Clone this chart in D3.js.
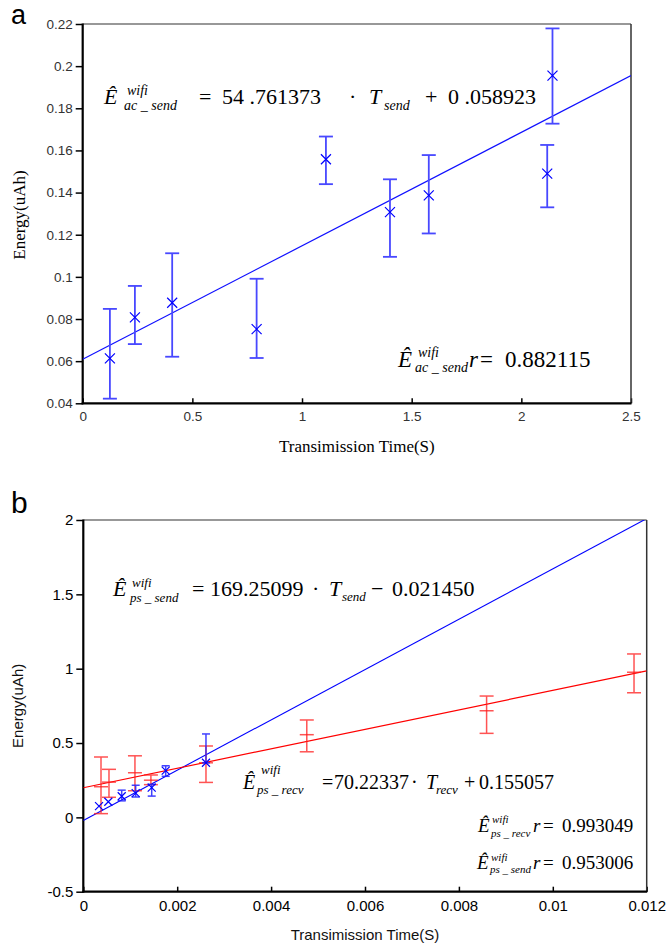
<!DOCTYPE html>
<html><head><meta charset="utf-8">
<script src="https://cdn.jsdelivr.net/npm/d3@7"></script>
<style>body{margin:0;background:#fff}svg{display:block}</style>
</head><body><script>
// ---------- Panel a data ----------
const aTime   = [0.124, 0.238, 0.408, 0.793, 1.109, 1.401, 1.578, 2.118, 2.142];
const aEnergy = [0.0613, 0.0808, 0.0877, 0.0752, 0.1558, 0.1307, 0.1387, 0.1490, 0.1955];
const aLow    = [0.0422, 0.0681, 0.0621, 0.0615, 0.1440, 0.1095, 0.1206, 0.1330, 0.1727];
const aHigh   = [0.0848, 0.0957, 0.1112, 0.0991, 0.1666, 0.1463, 0.1578, 0.1626, 0.2179];
const aFit    = [[0, 0.0609], [2.5, 0.1955]];
const aXTicks = [0, 0.5, 1, 1.5, 2, 2.5];
const aXLabels = ["0", "0.5", "1", "1.5", "2", "2.5"];
const aYTicks = [0.04, 0.06, 0.08, 0.10, 0.12, 0.14, 0.16, 0.18, 0.20, 0.22];
const aYLabels = ["0.04", "0.06", "0.08", "0.1", "0.12", "0.14", "0.16", "0.18", "0.2", "0.22"];

// ---------- Panel b data ----------
const bSendT  = [0.000335, 0.000533, 0.000818, 0.001116, 0.001457, 0.001755, 0.002613];
const bSendE  = [0.076, 0.105, 0.142, 0.163, 0.200, 0.314, 0.367];
const bSendLo = [0.076, 0.105, 0.111, 0.137, 0.143, 0.276, 0.367];
const bSendHi = [0.076, 0.105, 0.183, 0.216, 0.222, 0.347, 0.561];
const bRecvT  = [0.000377, 0.000547, 0.00110, 0.00144, 0.002613, 0.00476, 0.00859, 0.01173];
const bRecvE  = [0.206, 0.237, 0.300, 0.250, 0.367, 0.556, 0.717, 0.976];
const bRecvLo = [0.025, 0.135, 0.179, 0.220, 0.235, 0.441, 0.565, 0.838];
const bRecvHi = [0.406, 0.323, 0.414, 0.285, 0.480, 0.655, 0.816, 1.099];
const bSendFit = [[0, -0.02145], [0.012, 2.00956]];
const bRecvFit = [[0, 0.199], [0.012, 0.985]];
const bXTicks = [0, 0.002, 0.004, 0.006, 0.008, 0.010, 0.012];
const bXLabels = ["0", "0.002", "0.004", "0.006", "0.008", "0.01", "0.012"];
const bYTicks = [-0.5, 0, 0.5, 1, 1.5, 2];
const bYLabels = ["-0.5", "0", "0.5", "1", "1.5", "2"];

const SERIF = "'Liberation Serif','Times New Roman',serif";
const SANS = "'Liberation Sans',Arial,sans-serif";

const svg = d3.select("body").append("svg").attr("width", 668).attr("height", 943);

function frame(box, x, y, xt, xl, yt, yl, tickSize, tickFill, xPad) {
  const g = svg.append("g");
  const gy = g.append("g").attr("transform", `translate(${box.l},0)`)
    .call(d3.axisLeft(y).tickValues(yt).tickFormat((d, i) => yl[i]).tickSize(7).tickPadding(3).tickSizeOuter(0));
  const gx = g.append("g").attr("transform", `translate(0,${box.b})`)
    .call(d3.axisBottom(x).tickValues(xt).tickFormat((d, i) => xl[i]).tickSize(-5).tickPadding(xPad).tickSizeOuter(0));
  [gx, gy].forEach(a => {
    a.select(".domain").remove();
    a.selectAll("line").attr("stroke", "#000").attr("stroke-width", 1.5);
    a.selectAll("text").attr("font-family", SANS).attr("font-size", tickSize).attr("fill", tickFill);
  });
  g.append("line").attr("x1", box.l).attr("x2", box.r).attr("y1", box.t).attr("y2", box.t).attr("stroke", "#333").attr("stroke-width", 1.2);
  g.append("line").attr("x1", box.r).attr("x2", box.r).attr("y1", box.t).attr("y2", box.b).attr("stroke", "#333").attr("stroke-width", 1.5);
  g.append("line").attr("x1", box.l).attr("x2", box.l).attr("y1", box.t - 0.5).attr("y2", box.b + 1).attr("stroke", "#000").attr("stroke-width", 2.2);
  g.append("line").attr("x1", box.l - 1).attr("x2", box.r + 0.5).attr("y1", box.b).attr("y2", box.b).attr("stroke", "#000").attr("stroke-width", 2.2);
  return g;
}

function clip(id, box) {
  svg.append("clipPath").attr("id", id).append("rect")
    .attr("x", box.l).attr("y", box.t).attr("width", box.r - box.l).attr("height", box.b - box.t);
}

function fitLine(g, x, y, pts, color, w, clipId) {
  g.append("path").attr("clip-path", `url(#${clipId})`)
    .attr("d", d3.line().x(d => x(d[0])).y(d => y(d[1]))(pts))
    .attr("fill", "none").attr("stroke", color).attr("stroke-width", w);
}

function errBars(g, x, y, T, lo, hi, cap, color, w, op) {
  const gg = g.append("g").attr("stroke", color).attr("stroke-width", w).attr("opacity", op);
  T.forEach((t, i) => {
    if (hi[i] === lo[i]) return;
    const cx = x(t);
    gg.append("line").attr("x1", cx).attr("x2", cx).attr("y1", y(lo[i])).attr("y2", y(hi[i]));
    gg.append("line").attr("x1", cx - cap).attr("x2", cx + cap).attr("y1", y(lo[i])).attr("y2", y(lo[i]));
    gg.append("line").attr("x1", cx - cap).attr("x2", cx + cap).attr("y1", y(hi[i])).attr("y2", y(hi[i]));
  });
}

function crosses(g, x, y, T, E, s, color, w) {
  const gg = g.append("g").attr("stroke", color).attr("stroke-width", w);
  T.forEach((t, i) => {
    const cx = x(t), cy = y(E[i]);
    gg.append("path").attr("d", `M${cx - s},${cy - s}L${cx + s},${cy + s}M${cx - s},${cy + s}L${cx + s},${cy - s}`);
  });
}

function dashes(g, x, y, T, E, s, color, w, op) {
  const gg = g.append("g").attr("stroke", color).attr("stroke-width", w).attr("opacity", op);
  T.forEach((t, i) => {
    gg.append("line").attr("x1", x(t) - s).attr("x2", x(t) + s).attr("y1", y(E[i])).attr("y2", y(E[i]));
  });
}

function eqn(baseY, main, script, chunks) {
  chunks.forEach(c => {
    svg.append("text").attr("x", c.x).attr("y", baseY + (c.dy || 0))
      .attr("font-family", SERIF).attr("font-size", c.s ? script : main)
      .attr("font-style", c.it ? "italic" : "normal").attr("fill", "#000")
      .style("white-space", "pre").text(c.t);
  });
}

// ================= Panel a =================
const boxA = { l: 82.7, t: 24, r: 631, b: 403.3 };
const xA = d3.scaleLinear().domain([0, 2.5]).range([boxA.l, boxA.r]);
const yA = d3.scaleLinear().domain([0.04, 0.22]).range([boxA.b, boxA.t]);
const gA = frame(boxA, xA, yA, aXTicks, aXLabels, aYTicks, aYLabels, 13.5, "#333", 8);
clip("clipA", boxA);
fitLine(gA, xA, yA, aFit, "#1010ff", 1.2, "clipA");
errBars(gA, xA, yA, aTime, aLow, aHigh, 7, "#4848ff", 1.8, 1);
crosses(gA, xA, yA, aTime, aEnergy, 5, "#0000ff", 1.2);

svg.append("text").attr("x", 11).attr("y", 24).attr("font-family", SANS).attr("font-size", 27).text("a");
svg.append("text").attr("transform", "translate(25,215) rotate(-90)").attr("text-anchor", "middle")
  .attr("font-family", SERIF).attr("font-size", 17).text("Energy(uAh)");
svg.append("text").attr("x", (boxA.l + boxA.r) / 2).attr("y", 452).attr("text-anchor", "middle")
  .attr("font-family", SERIF).attr("font-size", 17).text("Transimission Time(S)");

eqn(104, 22, 14, [
  { x: 104, t: "Ê", it: 1 },
  { x: 127, t: "wifi", it: 1, s: 1, dy: -9 },
  { x: 124, t: "ac _ send", it: 1, s: 1, dy: 6 },
  { x: 199, t: "=" },
  { x: 222, t: "54 .761373" },
  { x: 349, t: "·" },
  { x: 369, t: "T", it: 1 },
  { x: 384, t: "send", it: 1, s: 1, dy: 6 },
  { x: 425, t: "+" },
  { x: 448, t: "0 .058923" }
]);
eqn(367, 23, 14, [
  { x: 398, t: "Ê", it: 1 },
  { x: 418, t: "wifi", it: 1, s: 1, dy: -10 },
  { x: 415, t: "ac _ send", it: 1, s: 1, dy: 5 },
  { x: 469, t: "r", it: 1 },
  { x: 480, t: "=" },
  { x: 505, t: "0.882115" }
]);

// ================= Panel b =================
const boxB = { l: 83.3, t: 520, r: 646.7, b: 891.7 };
const xB = d3.scaleLinear().domain([0, 0.012]).range([boxB.l, boxB.r]);
const yB = d3.scaleLinear().domain([-0.5, 2]).range([boxB.b, boxB.t]);
const gB = frame(boxB, xB, yB, bXTicks, bXLabels, bYTicks, bYLabels, 15, "#000", 9);
clip("clipB", boxB);
fitLine(gB, xB, yB, bSendFit, "#0000ff", 1.1, "clipB");
fitLine(gB, xB, yB, bRecvFit, "#ff0000", 1.2, "clipB");
errBars(gB, xB, yB, bRecvT, bRecvLo, bRecvHi, 7, "#ff1a1a", 1.5, 0.75);
dashes(gB, xB, yB, bRecvT, bRecvE, 7, "#ff1a1a", 1.5, 0.75);
errBars(gB, xB, yB, bSendT, bSendLo, bSendHi, 4, "#2020ff", 1.5, 0.85);
crosses(gB, xB, yB, bSendT, bSendE, 4, "#0000ff", 1.2);

svg.append("text").attr("x", 11).attr("y", 513).attr("font-family", SANS).attr("font-size", 30).text("b");
svg.append("text").attr("transform", `translate(23,${(boxB.t + boxB.b) / 2}) rotate(-90)`).attr("text-anchor", "middle")
  .attr("font-family", SANS).attr("font-size", 15).attr("fill", "#111").text("Energy(uAh)");
svg.append("text").attr("x", (boxB.l + boxB.r) / 2).attr("y", 940).attr("text-anchor", "middle")
  .attr("font-family", SANS).attr("font-size", 15).attr("fill", "#111").text("Transimission Time(S)");

eqn(596, 22, 13, [
  { x: 113, t: "Ê", it: 1 },
  { x: 132, t: "wifi", it: 1, s: 1, dy: -9 },
  { x: 130, t: "ps _ send", it: 1, s: 1, dy: 6 },
  { x: 192, t: "=" },
  { x: 210, t: "169.25099" },
  { x: 312, t: "·" },
  { x: 329, t: "T", it: 1 },
  { x: 342, t: "send", it: 1, s: 1, dy: 5 },
  { x: 371, t: "−" },
  { x: 392, t: "0.021450" }
]);
eqn(789, 20, 13, [
  { x: 243, t: "Ê", it: 1 },
  { x: 261, t: "wifi", it: 1, s: 1, dy: -15 },
  { x: 257, t: "ps _ recv", it: 1, s: 1, dy: 5 },
  { x: 322, t: "=" },
  { x: 334, t: "70.22337" },
  { x: 411, t: "·" },
  { x: 426, t: "T", it: 1 },
  { x: 436, t: "recv", it: 1, s: 1, dy: 5 },
  { x: 464, t: "+" },
  { x: 479, t: "0.155057" }
]);
eqn(832, 19, 11, [
  { x: 478, t: "Ê", it: 1 },
  { x: 492, t: "wifi", it: 1, s: 1, dy: -9 },
  { x: 491, t: "ps _ recv", it: 1, s: 1, dy: 5 },
  { x: 533, t: "r", it: 1 },
  { x: 543, t: "=" },
  { x: 562, t: "0.993049" }
]);
eqn(869, 19, 11, [
  { x: 477, t: "Ê", it: 1 },
  { x: 491, t: "wifi", it: 1, s: 1, dy: -8 },
  { x: 490, t: "ps _ send", it: 1, s: 1, dy: 4 },
  { x: 533, t: "r", it: 1 },
  { x: 543, t: "=" },
  { x: 562, t: "0.953006" }
]);
</script></body></html>
